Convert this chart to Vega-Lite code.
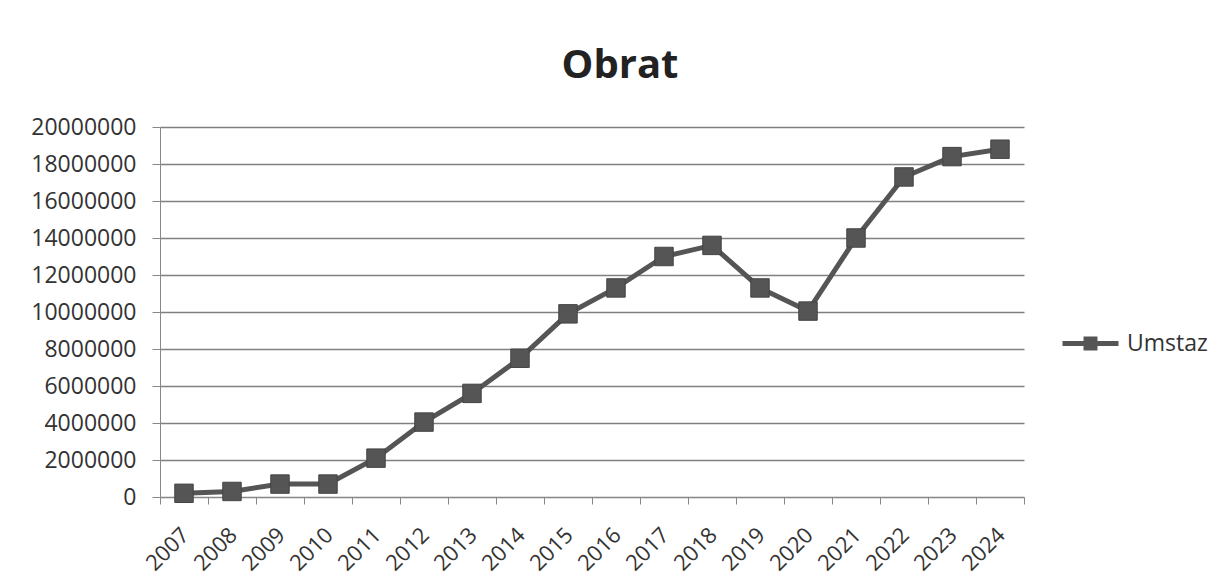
{
  "$schema": "https://vega.github.io/schema/vega-lite/v6.json",
  "autosize": "none",
  "width": 864,
  "height": 370,
  "padding": {"left": 160, "top": 127, "right": 199, "bottom": 89},
  "background": "white",
  "title": {"text": "Obrat", "fontSize": 40, "fontWeight": "bold", "font": "Open Sans", "color": "#222", "anchor": "middle", "dx": 28, "offset": 30},
  "data": {"values": [
    {"year": "2007", "value": 200000, "series": "Umstaz"},
    {"year": "2008", "value": 300000, "series": "Umstaz"},
    {"year": "2009", "value": 700000, "series": "Umstaz"},
    {"year": "2010", "value": 700000, "series": "Umstaz"},
    {"year": "2011", "value": 2100000, "series": "Umstaz"},
    {"year": "2012", "value": 4050000, "series": "Umstaz"},
    {"year": "2013", "value": 5600000, "series": "Umstaz"},
    {"year": "2014", "value": 7500000, "series": "Umstaz"},
    {"year": "2015", "value": 9900000, "series": "Umstaz"},
    {"year": "2016", "value": 11300000, "series": "Umstaz"},
    {"year": "2017", "value": 13000000, "series": "Umstaz"},
    {"year": "2018", "value": 13600000, "series": "Umstaz"},
    {"year": "2019", "value": 11300000, "series": "Umstaz"},
    {"year": "2020", "value": 10050000, "series": "Umstaz"},
    {"year": "2021", "value": 14000000, "series": "Umstaz"},
    {"year": "2022", "value": 17300000, "series": "Umstaz"},
    {"year": "2023", "value": 18400000, "series": "Umstaz"},
    {"year": "2024", "value": 18800000, "series": "Umstaz"}
  ]},
  "encoding": {
    "x": {"field": "year", "type": "ordinal", "title": null,
      "scale": {"paddingInner": 0, "paddingOuter": 0},
      "axis": {"labelAngle": -45, "labelAlign": "right", "labelBaseline": "top", "labelFontSize": 22, "labelFont": "Open Sans", "labelColor": "#333",
        "domainColor": "#888", "tickColor": "#888", "tickBand": "extent", "tickSize": 7, "labelPadding": 20, "labelOffset": -6, "grid": false}},
    "y": {"field": "value", "type": "quantitative", "title": null,
      "scale": {"domain": [0, 20000000], "nice": false},
      "axis": {"values": [0, 2000000, 4000000, 6000000, 8000000, 10000000, 12000000, 14000000, 16000000, 18000000, 20000000],
        "format": "d", "labelFontSize": 23, "labelFont": "Open Sans", "labelColor": "#333", "labelPadding": 16,
        "domainColor": "#888", "tickColor": "#888", "tickSize": 8, "gridColor": "#808080", "gridWidth": 1.3}},
    "color": {"field": "series", "type": "nominal", "title": null,
      "scale": {"range": ["#555555"]},
      "legend": {"orient": "none", "legendX": 900, "legendY": 186, "symbolType": "M-1,0H1M-0.16,-0.16H0.16V0.16H-0.16Z", "symbolSize": 3136, "symbolStrokeWidth": 5, "symbolFillColor": "#555555", "symbolStrokeColor": "#555555", "labelFontSize": 23, "labelFont": "Open Sans", "labelColor": "#333", "labelOffset": 6}}
  },
  "layer": [
    {"mark": {"type": "line", "strokeWidth": 5}},
    {"mark": {"type": "point", "shape": "square", "filled": true, "size": 340, "opacity": 1, "stroke": "#444", "strokeWidth": 1}}
  ],
  "config": {"view": {"stroke": null}}
}
